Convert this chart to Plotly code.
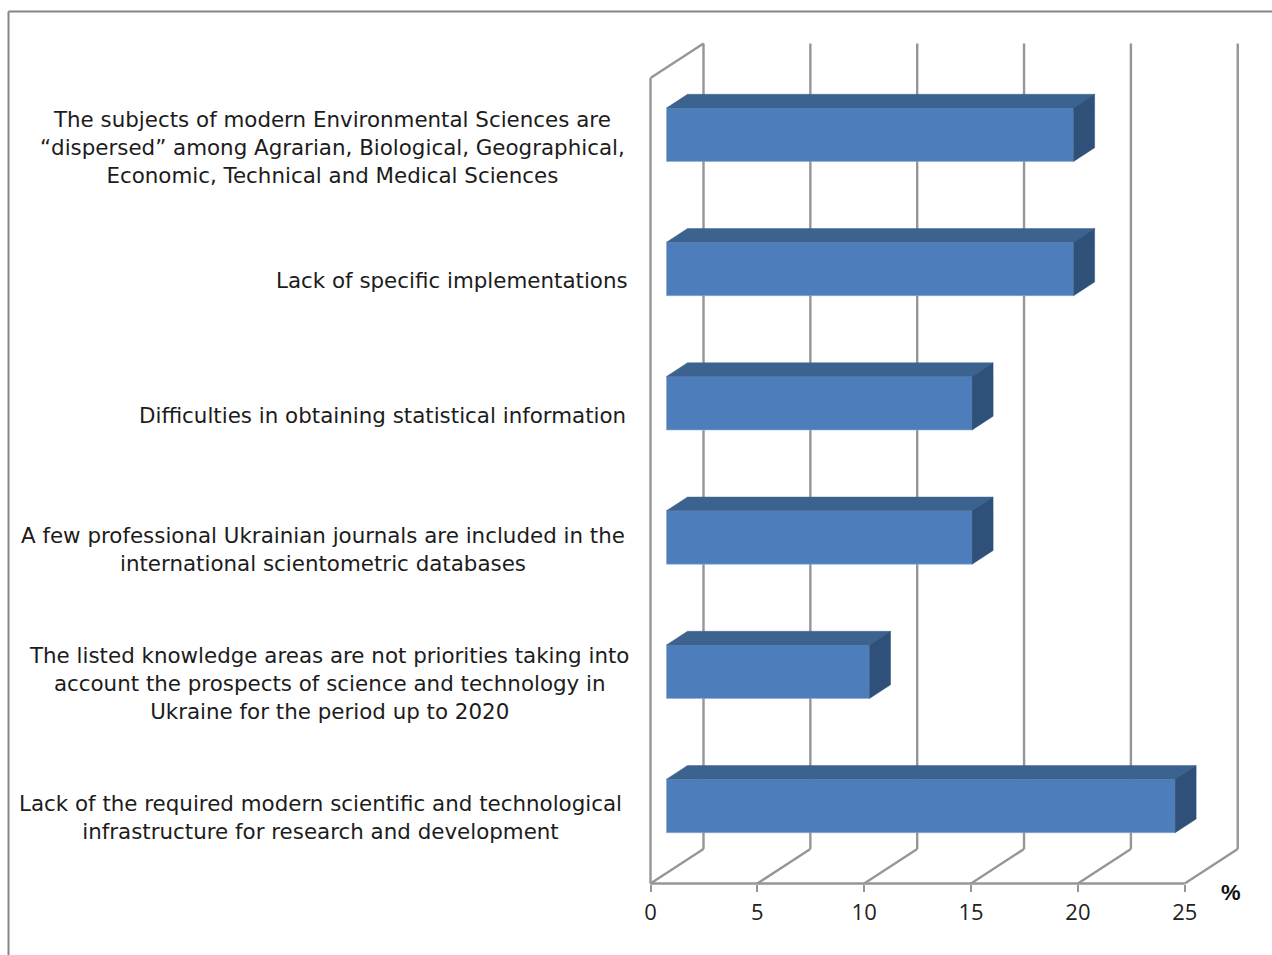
import plotly.graph_objects as go

# ---- data ----
categories = [
    "The subjects of modern Environmental Sciences are<br>“dispersed” among Agrarian, Biological, Geographical,<br>Economic, Technical and Medical Sciences",
    "Lack of specific implementations",
    "Difficulties in obtaining statistical information",
    "A few professional Ukrainian journals are included in the<br>international scientometric databases",
    "The listed knowledge areas are not priorities taking into<br>account the prospects of science and technology in<br>Ukraine for the period up to 2020",
    "Lack of the required modern scientific and technological<br>infrastructure for research and development",
]
values = [19.05, 19.05, 14.3, 14.3, 9.5, 23.8]
tick_values = [0, 5, 10, 15, 20, 25]
unit_label = "%"

# ---- layout constants (pixels of the 1272x955 page) ----
W, H = 1272, 955
X0_PX, X_END_PX = 650.5, 1238.0
Y0_PX, Y_TOP_PX = 883.5, 43.0
PAD = 6.0
PX_PER_UNIT = 21.37
PX_PER_BAND = 134.25
DEPTH_X = 53 / PX_PER_UNIT
DEPTH_Y = 34.5 / PX_PER_BAND
D_FRONT, D_BACK = 16 / 53, 37 / 53
BAR_H = 0.398
n = len(categories)
WALL_TOP = float(n)
GRID = "#969696"
FRONT, TOP, SIDE = "#4D7EBB", "#3C628F", "#2F5179"
label_cx = [332, 452, 382.5, 323, 328.5, 320]
label_cy = [147, 281, 415, 549, 683, 817]
LABEL_FONT = dict(family="DejaVu Sans", size=21.4, color="#1c1c1c")


def line_shape(xs, ys):
    return [dict(type="line", layer="below", xref="x", yref="y", x0=xs[i], y0=ys[i], x1=xs[i + 1], y1=ys[i + 1],
                 line=dict(color=GRID, width=2.4)) for i in range(len(xs) - 1)]


shapes = []
for t in tick_values:
    shapes += line_shape([t, t + DEPTH_X, t + DEPTH_X], [0, DEPTH_Y, WALL_TOP + DEPTH_Y])
shapes += line_shape([0, 0, DEPTH_X], [0, WALL_TOP, WALL_TOP + DEPTH_Y])
shapes += line_shape([tick_values[0], tick_values[-1]], [0, 0])
# outer frame of the picture
for x0, y0, x1, y1 in [(8.5 / W, 0, 8.5 / W, 1 - 11.5 / H), (8.5 / W, 1 - 11.5 / H, 1, 1 - 11.5 / H)]:
    shapes.append(dict(type="line", xref="paper", yref="paper", x0=x0, y0=y0, x1=x1, y1=y1,
                       line=dict(color="#858585", width=2)))

fig = go.Figure()
x_f = D_FRONT * DEPTH_X
x_b = D_BACK * DEPTH_X
y_f = D_FRONT * DEPTH_Y
y_b = D_BACK * DEPTH_Y
centres = [n - 1 - i + 0.5 for i in range(n)]

fig.add_trace(go.Bar(
    orientation="h", x=values, y=[c + y_f for c in centres], base=x_f, width=BAR_H,
    marker=dict(color=FRONT, line=dict(color="#8AA9CF", width=0.6)), showlegend=False, hoverinfo="x",
))
for c, v in zip(centres, values):
    top = c + y_f + BAR_H / 2
    bot = c + y_f - BAR_H / 2
    right = x_f + v
    fig.add_trace(go.Scatter(
        x=[x_f, x_b, x_b + v, right, x_f], y=[top, c + y_b + BAR_H / 2, c + y_b + BAR_H / 2, top, top],
        mode="lines", fill="toself", fillcolor=TOP, line=dict(color=TOP, width=0.5), showlegend=False, hoverinfo="skip",
    ))
    fig.add_trace(go.Scatter(
        x=[right, x_b + v, x_b + v, right, right],
        y=[top, c + y_b + BAR_H / 2, c + y_b - BAR_H / 2, bot, top],
        mode="lines", fill="toself", fillcolor=SIDE, line=dict(color=SIDE, width=0.5), showlegend=False, hoverinfo="skip",
    ))

annotations = [
    dict(text=t, xref="paper", yref="paper", x=cx / W, y=1 - cy / H, xanchor="center", yanchor="middle",
         align="center", showarrow=False, font=LABEL_FONT)
    for t, cx, cy in zip(categories, label_cx, label_cy)
]
annotations.append(dict(text=f"<b>{unit_label}</b>", xref="paper", yref="paper", x=1231 / W, y=1 - 892 / H,
                        xanchor="center", yanchor="middle", showarrow=False,
                        font=dict(family="Liberation Sans", size=22, color="#111111")))

fig.update_layout(
    template="none",
    width=W, height=H, margin=dict(l=0, r=0, t=0, b=0, pad=0), paper_bgcolor="white", plot_bgcolor="white",
    shapes=shapes, annotations=annotations, showlegend=False,
    xaxis=dict(domain=[(X0_PX - PAD) / W, (X_END_PX + PAD) / W],
               range=[-PAD / PX_PER_UNIT, (X_END_PX - X0_PX + PAD) / PX_PER_UNIT], tickmode="array",
               tickvals=tick_values, ticks="outside", ticklen=7, tickwidth=2, tickcolor=GRID, showgrid=False,
               zeroline=False, showline=False, tickfont=dict(family="Open Sans", size=22, color="#222222"),
               ticklabelstandoff=2, anchor="free", position=1 - Y0_PX / H, automargin=False, fixedrange=True),
    yaxis=dict(domain=[1 - (Y0_PX + PAD) / H, 1 - (Y_TOP_PX - PAD) / H],
               range=[-PAD / PX_PER_BAND, (Y0_PX - Y_TOP_PX + PAD) / PX_PER_BAND], visible=False,
               automargin=False, fixedrange=True),
)
fig.write_html("out.html", post_script="document.body.style.margin='0';document.body.style.overflow='hidden';",
               config=dict(displayModeBar=False))
